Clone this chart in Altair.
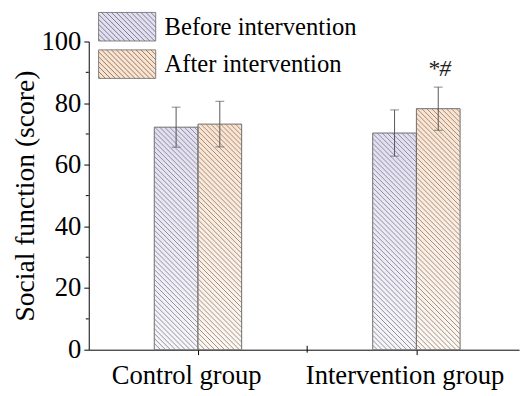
import json
import altair as alt
import pandas as pd

# ---- data ----
groups = ["Control group", "Intervention group"]
series = ["Before intervention", "After intervention"]
before_mean = [72.2, 70.3]
before_sd = [6.5, 7.5]
after_mean = [73.2, 78.2]
after_sd = [7.4, 7.0]
annot_group = "Intervention group"
annot_series = "After intervention"
annot_star = "*"
annot_hash = "#"
y_minor = [10, 30, 50, 70, 90]

# ---- layout constants ----
W, H = 437, 313
XMIN, XMAX = 0.5, 2.47
YMIN, YMAX = 0, 100
BAR_W = 0.2
HATCH = 5.0  # px horizontal spacing
FONT = "Liberation Serif"
colors = ["#e2def3", "#fde2cc"]

rows = []
for gi, g in enumerate(groups):
    pos = gi + 1
    rows.append(dict(group=g, series=series[0], x0=pos - BAR_W, x1=pos,
                     mean=before_mean[gi], sd=before_sd[gi]))
    rows.append(dict(group=g, series=series[1], x0=pos, x1=pos + BAR_W,
                     mean=after_mean[gi], sd=after_sd[gi]))
df = pd.DataFrame(rows)
df["xc"] = (df.x0 + df.x1) / 2
df["lo"] = df["mean"] - df["sd"]
df["hi"] = df["mean"] + df["sd"]
df["zero"] = 0


def px_x(v):
    return (v - XMIN) / (XMAX - XMIN) * W


def px_y(v):
    return H - (v - YMIN) / (YMAX - YMIN) * H


def dx(p):
    return XMIN + p / W * (XMAX - XMIN)


def dy(p):
    return YMIN + (H - p) / H * (YMAX - YMIN)


# hatch segments clipped to each bar ("\" direction: y_px = x_px + c)
hatch = []
for r in rows:
    a0, a1 = px_x(r["x0"]), px_x(r["x1"])
    t, b = px_y(r["mean"]), px_y(0)
    c = -W - 10 * H
    c = HATCH * int(c / HATCH)
    while c < W + H:
        xa = max(a0, t - c)
        xb = min(a1, b - c)
        if xb - xa > 0.3:
            hatch.append(dict(hx=dx(xa), hy=dy(xa + c), hx2=dx(xb), hy2=dy(xb + c)))
        c += HATCH
hdf = pd.DataFrame(hatch)

# legend symbol: rectangle + hatch lines in unit coords (scale = sqrt(size)/2)
sym = "M-2,-1H2V1H-2Z"
step = HATCH / 14.5
c = -3.0
while c < 3.0:
    xa = max(-2.0, -1.0 - c)
    xb = min(2.0, 1.0 - c)
    if xb - xa > 0.02:
        sym += f" M{xa:.3f},{xa + c:.3f}L{xb:.3f},{xb + c:.3f}"
    c += step

xscale = alt.Scale(domain=[XMIN, XMAX], nice=False, zero=False)
yscale = alt.Scale(domain=[YMIN, YMAX], nice=False)

base = alt.Chart(df)

bars = base.mark_rect().encode(
    x=alt.X("x0:Q", scale=xscale,
            axis=alt.Axis(values=[1, 2], title=None,
                          labelExpr=json.dumps(groups) + "[datum.value - 1]",
                          tickSize=5, labelPadding=8, labelLimit=400, labelFlush=False,
                          labelOverlap=False, labelFontSize=27, labelOffset=-12,
                          grid=False)),
    x2="x1:Q",
    y=alt.Y("mean:Q", scale=yscale,
            axis=alt.Axis(values=[0, 20, 40, 60, 80, 100], title="Social function (score)",
                          tickSize=5, labelPadding=3, titlePadding=2, labelFontSize=27,
                          grid=False)),
    y2="zero:Q",
    fill=alt.Fill("series:N", scale=alt.Scale(domain=series, range=colors),
                  legend=alt.Legend(title=None, orient="none", legendX=24, legendY=-30,
                                    symbolType=sym, symbolSize=841,
                                    symbolStrokeColor="#666", symbolStrokeWidth=0.8,
                                    symbolOpacity=1,
                                    labelFont=FONT, labelFontSize=25, labelColor="black",
                                    labelOffset=23, labelLimit=400, rowPadding=4,
                                    padding=0)),
)

overlay = base.mark_rect(
    fill=alt.Gradient(gradient="linear", x1=0, x2=0, y1=0, y2=1,
                      stops=[alt.GradientStop(color="rgba(255,255,255,0)", offset=0),
                             alt.GradientStop(color="rgba(255,255,255,0.7)", offset=1)]),
    stroke="#6e6e6e", strokeWidth=1,
).encode(x="x0:Q", x2="x1:Q", y="mean:Q", y2="zero:Q")

hatch_layer = alt.Chart(hdf).mark_rule(color="#7a7a7a", strokeWidth=0.8).encode(
    x="hx:Q", y="hy:Q", x2="hx2:Q", y2="hy2:Q")

err = base.mark_rule(color="#555", strokeWidth=1).encode(x="xc:Q", y="lo:Q", y2="hi:Q")
cap_hi = base.mark_tick(color="#555", orient="horizontal", size=9, thickness=1).encode(
    x="xc:Q", y="hi:Q")
cap_lo = base.mark_tick(color="#555", orient="horizontal", size=9, thickness=1).encode(
    x="xc:Q", y="lo:Q")

adf = df[(df.group == annot_group) & (df.series == annot_series)].copy()
adf["ty"] = adf["hi"] + 3.5
star = alt.Chart(adf).mark_text(text=annot_star, font=FONT, fontSize=24, align="right",
                                baseline="alphabetic", dx=2, color="#222").encode(
    x="xc:Q", y="ty:Q")
hsh = alt.Chart(adf).mark_text(text=annot_hash, font=FONT, fontSize=24, fontStyle="italic",
                               align="left", baseline="alphabetic", dx=1, color="#222").encode(
    x="xc:Q", y="ty:Q")

mdf = pd.DataFrame({"m": y_minor})
minor_y = alt.Chart(mdf).mark_rule(color="black", strokeWidth=1).encode(
    y="m:Q", x=alt.value(-3), x2=alt.value(0))
minor_x = alt.Chart(pd.DataFrame({"m": [1.5]})).mark_rule(color="black", strokeWidth=1).encode(
    x="m:Q", y=alt.value(H - 4), y2=alt.value(H + 3))

chart = alt.layer(bars, overlay, hatch_layer, err, cap_hi, cap_lo, star, hsh, minor_y, minor_x).properties(
    width=W, height=H,
    autosize=alt.AutoSizeParams(type="none"),
    padding={"left": 82, "top": 31, "right": 4, "bottom": 44},
).configure_view(stroke=None).configure_axis(
    domainColor="black", tickColor="black", domainWidth=1, tickWidth=1,
    labelFont=FONT, labelFontSize=26, labelColor="black",
    titleFont=FONT, titleFontSize=28, titleFontWeight="normal", titleColor="black",
)

chart.save("out.html", embed_options={"renderer": "svg", "actions": False})
